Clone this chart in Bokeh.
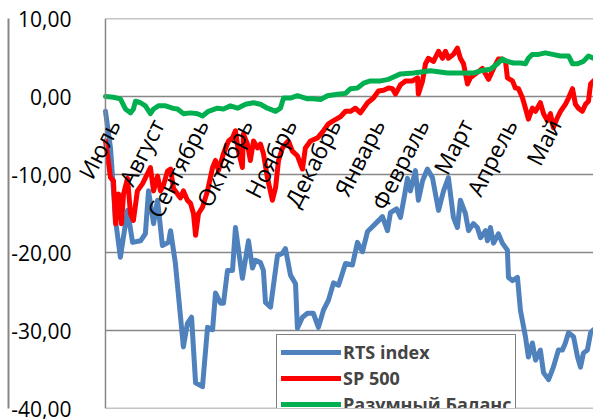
import math
from bokeh.plotting import figure
from bokeh.models import Range1d, Legend, LegendItem, LinearAxis, Span
from bokeh.embed import file_html
from bokeh.resources import INLINE

# ---- data (trading day index from start of July, % change) ----
months = ["Июль", "Август", "Сентябрь", "Октябрь", "Ноябрь", "Декабрь",
          "Январь", "Февраль", "Март", "Апрель", "Май"]
days_per_month = 21

y_ticks = [-40, -30, -20, -10, 0, 10]
y_tick_labels = ["-40,00", "-30,00", "-20,00", "-10,00", "0,00", "10,00"]

rts_day = [0, 2.4, 4.8, 7.1, 10.5, 12.9, 16.7, 19.0, 20.5, 22.9, 24.8, 27.1, 30.0, 31.0, 33.3,
           37.1, 39.0, 41.0, 42.9, 46.2, 48.6, 51.0, 52.4, 54.8, 56.2, 58.1, 60.5, 61.9, 65.2,
           68.1, 70.0, 71.4, 73.8, 75.2, 76.2, 78.6, 80.0, 81.9, 84.3, 85.7, 88.1, 90.5, 91.4,
           93.8, 96.2, 99.0, 101.4, 103.8, 106.2, 108.6, 111.0, 114.3, 117.6, 120.0, 122.4,
           124.8, 128.6, 131.9, 134.3, 135.7, 138.6, 140.5, 142.4, 143.8, 145.2, 147.6, 149.0,
           151.0, 153.3, 155.7, 158.6, 161.0, 163.3, 165.7, 167.6, 169.0, 171.4, 172.9, 175.2,
           177.1, 178.6, 181.0, 181.9, 183.3, 184.8, 187.1, 189.0, 191.4, 191.9, 193.8, 196.2,
           197.6, 200.0, 201.4, 203.3, 204.8, 207.1, 208.6, 211.0, 213.3, 215.7, 217.6, 219.0,
           220.5, 222.9, 224.8, 226.2, 227.6, 229.5, 231.0, 232.4]
rts_val = [-1.9, -6.6, -15.9, -20.6, -14.6, -18.7, -18.5, -17.6, -12.1, -16.3, -13.3, -19.1,
           -18.7, -17.2, -21.4, -32.1, -29.1, -28.3, -36.7, -37.2, -29.6, -29.9, -25.2, -26.5,
           -26.5, -22.3, -22.3, -16.8, -23.3, -18.5, -22.0, -21.0, -21.3, -22.3, -26.4, -27.0,
           -24.2, -20.4, -20.1, -19.5, -22.9, -24.0, -29.7, -28.3, -27.8, -27.8, -29.6, -27.4,
           -26.1, -23.9, -24.2, -21.4, -21.6, -18.7, -19.9, -17.3, -16.3, -15.4, -17.2, -14.9,
           -14.4, -15.5, -12.7, -10.5, -12.1, -9.5, -13.3, -10.8, -9.3, -10.4, -14.6, -12.1,
           -10.4, -15.5, -16.8, -13.3, -15.0, -17.2, -16.3, -16.8, -18.1, -17.2, -18.5, -16.8,
           -18.8, -17.6, -18.8, -19.7, -23.2, -23.6, -23.2, -27.4, -30.8, -33.4, -31.6, -33.8,
           -32.5, -35.4, -36.3, -34.7, -32.5, -32.5, -31.6, -30.3, -30.8, -33.4, -34.7, -32.9,
           -32.5, -30.3, -29.9]

sp_day = [0, 2.4, 3.8, 4.8, 6.2, 7.6, 8.6, 10.5, 11.9, 13.3, 15.2, 17.6, 20.0, 21.4, 22.9,
          24.8, 26.2, 27.6, 29.5, 31.0, 32.4, 34.3, 35.7, 37.1, 39.0, 40.5, 41.9, 42.9, 44.3,
          46.2, 48.6, 51.0, 52.4, 53.8, 56.2, 58.6, 60.5, 61.9, 63.3, 65.2, 65.7, 67.6, 69.0,
          70.5, 72.4, 73.8, 75.2, 77.1, 79.5, 81.0, 82.4, 84.3, 85.7, 87.1, 89.0, 91.4, 93.8,
          95.2, 97.6, 101.0, 103.8, 106.2, 108.6, 111.9, 114.3, 116.7, 119.0, 121.4, 124.8,
          127.6, 130.0, 132.4, 134.8, 136.7, 138.1, 140.5, 142.9, 146.2, 148.6, 149.0, 151.0,
          152.4, 153.8, 156.2, 158.6, 160.5, 161.9, 163.3, 165.7, 167.6, 169.0, 170.5, 172.4,
          173.8, 176.2, 179.5, 181.0, 182.4, 184.8, 187.1, 189.0, 190.5, 191.4, 193.8, 195.2,
          196.7, 198.6, 200.0, 201.4, 203.3, 204.8, 207.1, 208.6, 210.5, 211.9, 213.3, 215.2,
          216.7, 219.0, 220.5, 222.4, 223.8, 225.2, 227.1, 228.6, 230.0, 231.0, 232.4]
sp_val = [-5.7, -10.4, -10.8, -16.3, -12.5, -16.3, -12.5, -10.5, -15.0, -15.9, -12.1, -11.2,
          -9.9, -9.1, -12.1, -10.2, -12.1, -11.4, -9.6, -9.3, -11.8, -12.5, -13.0, -12.1, -13.3,
          -13.7, -15.0, -17.8, -15.0, -14.2, -12.1, -9.1, -8.2, -9.5, -7.3, -5.7, -5.3, -4.4,
          -7.0, -9.1, -4.8, -6.1, -8.2, -5.7, -6.6, -6.1, -7.3, -10.4, -13.3, -11.7, -8.2, -6.6,
          -6.1, -5.7, -7.0, -7.6, -9.3, -6.6, -5.7, -5.3, -4.4, -3.5, -3.1, -2.6, -1.9, -1.9,
          -1.5, -2.1, -0.8, -0.2, 0.7, 0.8, 1.1, 1.0, 0.3, 1.5, 2.0, 2.0, 2.4, 0.3, 2.0, 4.2,
          4.9, 4.5, 5.8, 4.9, 5.8, 4.9, 5.4, 6.2, 4.9, 4.2, 1.6, 2.4, 2.9, 3.6, 2.9, 2.2, 3.6,
          4.8, 4.8, 4.5, 2.4, 2.0, 1.1, 1.0, -0.2, -1.5, -2.9, -1.5, -1.9, -0.8, -2.2, -3.1,
          -2.2, -4.0, -2.7, -1.9, -1.0, -0.2, 1.0, -1.0, -1.5, -1.9, -1.0, -0.6, 1.6, 2.0]

rb_day = [0, 3.8, 7.1, 9.5, 11.9, 13.3, 14.3, 16.7, 19.0, 21.4, 22.9, 25.2, 28.6, 31.9, 34.3,
          37.1, 40.5, 43.8, 46.2, 49.0, 53.3, 56.2, 59.5, 62.9, 66.7, 70.5, 73.8, 77.1, 81.0,
          83.3, 84.8, 88.1, 91.4, 96.2, 99.0, 102.4, 105.7, 110.5, 114.3, 116.7, 120.0, 122.9,
          126.2, 131.0, 134.8, 140.5, 146.7, 154.8, 162.9, 169.0, 175.2, 178.6, 183.3, 187.1,
          189.0, 191.4, 194.3, 197.6, 200.0, 201.4, 203.3, 206.2, 209.5, 212.9, 216.7, 220.5,
          222.4, 224.8, 227.6, 230.0, 232.4]
rb_val = [0.0, -0.1, -0.3, -1.6, -2.1, -1.6, -0.6, -0.8, -1.2, -2.2, -1.6, -1.2, -1.2, -1.5,
          -1.6, -2.2, -2.1, -2.2, -2.5, -1.9, -1.5, -1.6, -1.2, -1.5, -1.0, -0.8, -1.0, -1.5,
          -1.9, -1.5, -0.2, -0.2, 0.1, -0.3, -0.3, -0.4, 0.1, 0.3, 0.4, 1.0, 1.1, 1.7, 2.0, 2.0,
          2.2, 2.9, 3.0, 3.3, 3.0, 3.0, 3.0, 3.3, 3.5, 4.3, 4.8, 4.5, 4.3, 4.3, 4.2, 4.9, 5.4,
          5.4, 5.6, 5.4, 5.2, 5.2, 4.2, 4.2, 4.5, 5.2, 4.9]

series_names = ["RTS index", "SP 500", "Разумный Баланс"]
series_colors = ["#4F81BD", "#FF0000", "#00B050"]

FONT = "Open Sans"
GRAY = "#878787"

x_start, x_end = 0, max(rts_day)
left_room = 13.8  # days of empty frame left of the value axis, room for the first month label

p = figure(width=593, height=419, output_backend="svg", toolbar_location=None,
           x_range=Range1d(x_start - left_room, x_end), y_range=Range1d(-40, 10),
           min_border_left=76, min_border_right=0, min_border_top=18, min_border_bottom=11)
p.xgrid.visible = False
p.ygrid.visible = False
p.outline_line_color = None
p.background_fill_color = "white"
p.border_fill_color = "white"

# horizontal gridlines starting at the value axis
p.segment(x0=[x_start] * len(y_ticks), x1=[x_end] * len(y_ticks), y0=y_ticks, y1=y_ticks,
          line_color=GRAY, line_width=1.5)
# value axis line
p.add_layout(Span(location=x_start, dimension="height", line_color=GRAY, line_width=1.5))

# month labels: x axis crossing at zero, labels rotated, drawn above the lines
label_shift = 3.8  # days, so the rotated label's end sits just right of the month tick
month_pos = [i * days_per_month + label_shift for i in range(len(months))]
p.xaxis.fixed_location = 0
p.xaxis.level = "overlay"
p.xaxis.ticker = month_pos
p.xaxis.major_label_overrides = dict(zip(month_pos, months))
p.xaxis.major_label_orientation = math.radians(63)
p.xaxis.major_label_standoff = 24
p.xaxis.axis_line_color = None
p.xaxis.major_tick_line_color = None
p.xaxis.minor_tick_line_color = None
p.xaxis.major_tick_out = 0
p.xaxis.major_tick_in = 0
p.xaxis.major_label_text_font = FONT
p.xaxis.major_label_text_font_size = "23px"
p.xaxis.major_label_text_color = "black"

p.yaxis.ticker = y_ticks
p.yaxis.major_label_overrides = dict(zip(y_ticks, y_tick_labels))
p.yaxis.axis_line_color = None
p.yaxis.major_tick_line_color = None
p.yaxis.minor_tick_line_color = None
p.yaxis.major_tick_out = 0
p.yaxis.major_tick_in = 0
p.yaxis.major_label_standoff = 5
p.yaxis.major_label_text_font = FONT
p.yaxis.major_label_text_font_size = "21px"
p.yaxis.major_label_text_color = "black"

# outer chart-area border on the left (label-less axis line)
border_axis = LinearAxis(axis_line_color=GRAY, axis_line_width=2,
                         major_tick_line_color=None, minor_tick_line_color=None,
                         major_tick_out=0, major_tick_in=0, major_label_standoff=0,
                         major_label_text_font_size="0px", ticker=[])
p.add_layout(border_axis, "left")

renderers = []
for d, v, c in zip([rts_day, sp_day, rb_day], [rts_val, sp_val, rb_val], series_colors):
    r = p.line(d, v, line_color=c, line_width=5, line_join="round", line_cap="round")
    renderers.append(r)

legend = Legend(items=[LegendItem(label=n, renderers=[r]) for n, r in zip(series_names, renderers)],
                location=(200, -14), glyph_width=60, glyph_height=26, label_height=26,
                label_standoff=2, padding=4, spacing=0, margin=0,
                border_line_color="black", border_line_width=1, background_fill_alpha=1,
                label_text_font=FONT, label_text_font_style="bold", label_text_font_size="18px")
p.add_layout(legend)

open("out.html", "w").write(file_html(p, INLINE))
